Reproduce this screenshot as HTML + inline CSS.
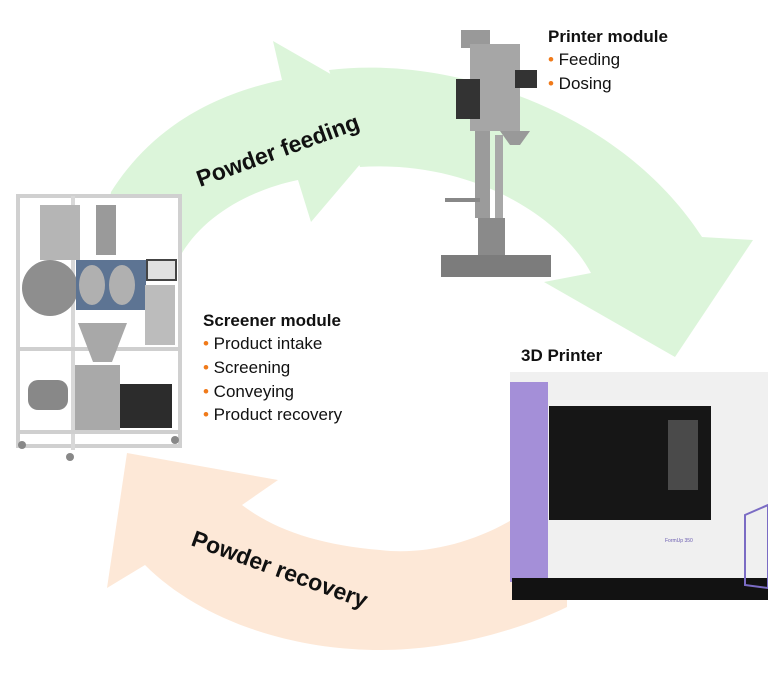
<!DOCTYPE html>
<html><head><meta charset="utf-8"><style>
body{margin:0;background:#fff;}
svg{display:block}
text{font-family:"Liberation Sans",sans-serif}
</style></head><body>
<svg width="768" height="684" viewBox="0 0 768 684">
<!-- green arrow 1 -->
<path d="M111,192 C150,130 210,95 282,80 L273,41 L402,115 L311,222 L298,180 C250,190 205,215 182,253 L160,300 L100,260 Z" fill="#dcf5da"/>
<!-- green arrow 2 -->
<path d="M329,70 C450,55 620,110 702,237 L753,240 L675,357 L544,282 L591,273 C560,215 470,160 360,167 Z" fill="#dcf5da"/>
<!-- orange arrow -->
<path d="M515,518 C470,545 420,555 380,550 C320,545 275,530 242,505 L278,480 L127,453 L107,588 L145,565 C200,620 290,650 380,650 C450,650 520,630 567,607 L567,560 Z" fill="#fde8d7"/>
<!-- screener module -->
<g>
<rect x="18" y="196" width="162" height="250" fill="#fff" stroke="#d0d0d0" stroke-width="4"/>
<line x1="73" y1="196" x2="73" y2="450" stroke="#d8d8d8" stroke-width="4"/>
<line x1="18" y1="349" x2="180" y2="349" stroke="#cfcfcf" stroke-width="4"/>
<line x1="18" y1="432" x2="180" y2="432" stroke="#cfcfcf" stroke-width="4"/>
<rect x="96" y="205" width="20" height="50" fill="#9a9a9a"/>
<rect x="40" y="205" width="40" height="55" fill="#b5b5b5"/>
<circle cx="50" cy="288" r="28" fill="#8e8e8e"/>
<rect x="76" y="260" width="70" height="50" fill="#5d7493"/>
<ellipse cx="92" cy="285" rx="13" ry="20" fill="#b0b0b0"/>
<ellipse cx="122" cy="285" rx="13" ry="20" fill="#b0b0b0"/>
<rect x="147" y="260" width="29" height="20" fill="#e0e0e0" stroke="#444" stroke-width="2"/>
<rect x="145" y="285" width="30" height="60" fill="#bcbcbc"/>
<polygon points="78,323 127,323 112,362 93,362" fill="#a8a8a8"/>
<rect x="28" y="380" width="40" height="30" rx="10" fill="#888"/>
<rect x="120" y="384" width="52" height="44" fill="#2c2c2c"/>
<rect x="75" y="365" width="45" height="65" fill="#a9a9a9"/>
<circle cx="22" cy="445" r="4" fill="#888"/><circle cx="70" cy="457" r="4" fill="#888"/><circle cx="175" cy="440" r="4" fill="#888"/>
</g>
<!-- printer module -->
<g>
<rect x="461" y="30" width="29" height="18" fill="#999"/>
<rect x="470" y="44" width="50" height="87" fill="#a6a6a6"/>
<rect x="456" y="79" width="24" height="40" fill="#333"/>
<rect x="515" y="70" width="22" height="18" fill="#333"/>
<polygon points="500,131 530,131 520,145 510,145" fill="#999"/>
<rect x="475" y="131" width="15" height="87" fill="#9b9b9b"/>
<rect x="495" y="135" width="8" height="90" fill="#a8a8a8"/>
<rect x="445" y="198" width="35" height="4" fill="#888"/>
<rect x="478" y="218" width="27" height="40" fill="#8a8a8a"/>
<rect x="441" y="255" width="110" height="22" fill="#7c7c7c"/>
</g>
<!-- 3D printer -->
<g>
<rect x="510" y="372" width="258" height="210" fill="#f0f0f0"/>
<rect x="510" y="382" width="38" height="200" fill="#a48fd8"/>
<rect x="549" y="406" width="162" height="114" fill="#161616"/>
<rect x="668" y="420" width="30" height="70" fill="#4a4a4a"/>
<rect x="512" y="578" width="256" height="22" fill="#121212"/>
<polygon points="745,515 768,505 768,588 745,585" fill="none" stroke="#7b6cc4" stroke-width="2"/>
<text x="665" y="542" font-size="5" fill="#6a5cb0">FormUp 350</text>
</g>
<!-- labels -->
<text x="548" y="42" font-size="17" font-weight="bold" fill="#111">Printer module</text>
<text x="548" y="65" font-size="17" fill="#111"><tspan fill="#f07a1a">•</tspan> Feeding</text>
<text x="548" y="89" font-size="17" fill="#111"><tspan fill="#f07a1a">•</tspan> Dosing</text>
<text x="203" y="326" font-size="17" font-weight="bold" fill="#111">Screener module</text>
<text x="203" y="349" font-size="17" fill="#111"><tspan fill="#f07a1a">•</tspan> Product intake</text>
<text x="203" y="373" font-size="17" fill="#111"><tspan fill="#f07a1a">•</tspan> Screening</text>
<text x="203" y="397" font-size="17" fill="#111"><tspan fill="#f07a1a">•</tspan> Conveying</text>
<text x="203" y="420" font-size="17" fill="#111"><tspan fill="#f07a1a">•</tspan> Product recovery</text>
<text x="521" y="361" font-size="17" font-weight="bold" fill="#111">3D Printer</text>
<text x="0" y="0" font-size="23" font-weight="bold" fill="#111" transform="translate(200,187) rotate(-20)">Powder feeding</text>
<text x="0" y="0" font-size="23" font-weight="bold" fill="#111" transform="translate(190,545) rotate(20)">Powder recovery</text>
</svg>
</body></html>
